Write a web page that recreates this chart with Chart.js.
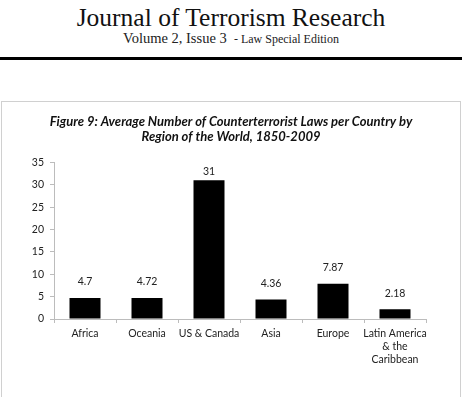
<!DOCTYPE html>
<html>
<head>
<meta charset="utf-8">
<script src="https://cdn.jsdelivr.net/npm/chart.js@4.4.1/dist/chart.umd.min.js"></script>
<style>
  html, body { margin: 0; padding: 0; background: #fff; }
  body { width: 462px; height: 397px; position: relative; overflow: hidden; }
  .journal {
    position: absolute; top: 3px; left: 0; width: 462px; text-align: center;
    font-family: "Liberation Serif", serif; font-size: 25.5px; color: #111;
  }
  .issue {
    position: absolute; top: 30px; left: 0; width: 462px; text-align: center;
    font-family: "Liberation Serif", serif; font-size: 14.5px; color: #222;
  }
  .issue small { font-size: 12px; }
  .rule { position: absolute; top: 57px; left: 0; width: 462px; height: 2.5px; background: #000; }
  .frame {
    position: absolute; top: 101px; left: 1px; width: 458px; height: 310px;
    border: 1px solid #d0d0d0;
  }
  .frame canvas { position: absolute; top: 0; left: 0; }
</style>
</head>
<body>
<div class="journal">Journal of Terrorism Research</div>
<div class="issue">Volume 2, Issue 3 &nbsp;<small>- Law Special Edition</small></div>
<div class="rule"></div>
<div class="frame"><canvas id="chart" width="458" height="296"></canvas></div>

<script>
// Chart data
const regions = ['Africa', 'Oceania', 'US & Canada', 'Asia', 'Europe', ['Latin America', '& the', 'Caribbean']];
const avgLaws = [4.7, 4.72, 31, 4.36, 7.87, 2.18];
const yTicks = [0, 5, 10, 15, 20, 25, 30, 35];

const axisGray = '#bcbcbc';
const textColor = '#222';
const tickFont = { family: 'Lato, "Liberation Sans", sans-serif', size: 10.5, lineHeight: 1.25 };

// Draw value labels above each bar (kept inside the plot area like Excel does)
const valueLabels = {
    id: 'valueLabels',
    afterDatasetsDraw(chart) {
        const ctx = chart.ctx;
        const meta = chart.getDatasetMeta(0);
        ctx.save();
        ctx.font = '10.5px Lato, "Liberation Sans", sans-serif';
        ctx.fillStyle = textColor;
        ctx.textAlign = 'center';
        ctx.textBaseline = 'middle';
        meta.data.forEach((bar, i) => {
            const y = Math.max(bar.y - 16, chart.chartArea.top + 9);
            ctx.fillText(String(avgLaws[i]), bar.x, y);
        });
        ctx.restore();
    }
};

const ctx = document.getElementById('chart').getContext('2d');

new Chart(ctx, {
    type: 'bar',
    data: {
        labels: regions,
        datasets: [{
            data: avgLaws,
            backgroundColor: '#000',
            borderWidth: 0,
            barPercentage: 0.5,
            categoryPercentage: 1
        }]
    },
    options: {
        responsive: false,
        animation: false,
        layout: { padding: { left: 0, right: 0, top: 0, bottom: 21 } },
        plugins: {
            legend: { display: false },
            tooltip: { enabled: false },
            title: {
                display: true,
                text: ['Figure 9: Average Number of Counterterrorist Laws per Country by',
                       'Region of the World, 1850-2009'],
                color: '#111',
                font: { family: 'Lato, "Liberation Sans", sans-serif', size: 13, weight: 'bold', style: 'italic', lineHeight: 1.15 },
                padding: { top: 12, bottom: 18.5 }
            }
        },
        scales: {
            x: {
                grid: { drawOnChartArea: false, color: axisGray, tickLength: 4, offset: true },
                border: { color: axisGray },
                ticks: { color: textColor, font: tickFont, padding: 4, maxRotation: 0, autoSkip: false },
                afterFit(scale) { scale.height = 58; }
            },
            y: {
                min: 0,
                max: 35,
                afterBuildTicks(scale) { scale.ticks = yTicks.map(v => ({ value: v })); },
                grid: { drawOnChartArea: false, color: axisGray, tickLength: 4 },
                border: { color: axisGray },
                ticks: { color: textColor, font: tickFont, padding: 6 },
                afterFit(scale) { scale.width = 52; }
            },
            // empty right-hand axis that only reserves the blank margin
            spacer: {
                type: 'linear',
                position: 'right',
                display: true,
                grid: { display: false },
                border: { display: false },
                ticks: { display: false },
                afterFit(scale) { scale.width = 34; }
            }
        }
    },
    plugins: [valueLabels]
});
</script>
</body>
</html>
